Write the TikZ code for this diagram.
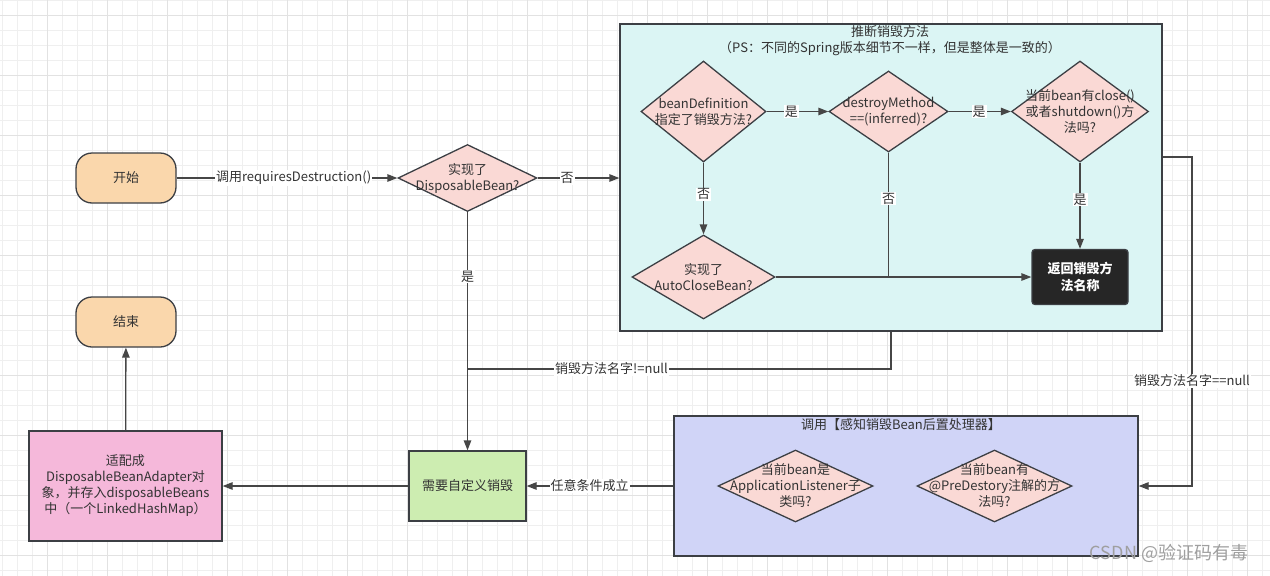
\documentclass[tikz,border=0pt]{standalone}
\usepackage{fontspec}
\setmainfont{Noto Sans CJK SC}
\usepackage{tikz}
\usetikzlibrary{shapes.geometric}
\usetikzlibrary{arrows.meta}

\definecolor{peach}{HTML}{FAD7AC}
\definecolor{rosy}{HTML}{FAD9D5}
\definecolor{mint}{HTML}{DBF5F4}
\definecolor{lilac}{HTML}{D0D4F7}
\definecolor{leaf}{HTML}{CDEDB1}
\definecolor{blush}{HTML}{F5B8DA}
\definecolor{coal}{HTML}{262626}
\definecolor{edge}{HTML}{3C3F44}
\definecolor{wire}{HTML}{464646}
\definecolor{ink}{HTML}{333333}
\definecolor{gridlo}{HTML}{EFEFEF}
\definecolor{gridhi}{HTML}{E2E2E2}

\begin{document}
\begin{tikzpicture} [
    x=1pt, y=-1pt,
    every node/.style = {font=\fontsize{13}{16}\selectfont, text=ink},
    term/.style = {draw=edge, fill=peach, line width=1.3pt, rounded corners=16pt, minimum width=100pt, minimum height=50pt},
    dia/.style = {diamond, draw=edge, fill=rosy, line width=1.3pt, inner sep=0pt},
    dtext/.style = {align=center, inner sep=0pt},
    box/.style = {draw=edge, line width=1.3pt, align=center},
    lbl/.style = {fill=white, inner sep=1pt},
    link/.style = {draw=wire, line width=1.3pt},
    arr/.style = {link, -{Triangle[length=10pt,width=7.5pt]}},
    gridminor/.style = {draw=gridlo, line width=0.8pt},
    gridmajor/.style = {draw=gridhi, line width=0.8pt}
]
    \useasboundingbox (0,0) rectangle (1270,576);
    \fill[white] (0,0) rectangle (1270,576);

    % background grid
    \foreach \i in {0,...,84} \draw[gridminor] ({2.3+15*\i},0) -- ({2.3+15*\i},576);
    \foreach \i in {0,...,38} \draw[gridminor] (0,{15*\i}) -- (1270,{15*\i});
    \foreach \i in {0,...,20} \draw[gridmajor] ({47.3+60*\i},0) -- ({47.3+60*\i},576);
    \foreach \i in {0,...,9} \draw[gridmajor] (0,{15+60*\i}) -- (1270,{15+60*\i});

    % main flow
    \node[term] (start) at (126,178) {开始};
    \node[term] (finish) at (126,322) {结束};
    \node[dia, minimum width=139pt, minimum height=67pt,
          label={[dtext]center:{实现了\\DisposableBean?}}] (dispo) at (467.5,178) {};

    % infer box
    \node[box, fill=mint, minimum width=542pt, minimum height=307pt] (infer) at (891,177.5) {};
    \node[align=center] (inferT) at (890,41)
        {推断销毁方法\\（PS：不同的Spring版本细节不一样，但是整体是一致的）};
    \node[dia, minimum width=125pt, minimum height=101pt,
          label={[dtext]center:{beanDefinition\\指定了销毁方法?}}] (d1) at (703.5,111.5) {};
    \node[dia, minimum width=119pt, minimum height=81pt,
          label={[dtext]center:{destroyMethod\\==(inferred)?}}] (d2) at (888.5,111.5) {};
    \node[dia, minimum width=137pt, minimum height=101pt,
          label={[dtext]center:{当前bean有close()\\或者shutdown()方\\法吗?}}] (d3) at (1080,111.5) {};
    \node[dia, minimum width=143pt, minimum height=84pt,
          label={[dtext]center:{实现了\\AutoCloseBean?}}] (d4) at (703.5,277) {};
    \node[box, fill=coal, text=white, rounded corners=3pt, minimum width=96pt, minimum height=55pt,
          font=\fontsize{13}{17}\selectfont\bfseries] (ret) at (1080,277) {返回销毁方\\法名称};

    % aware box
    \node[box, fill=lilac, minimum width=464pt, minimum height=140pt] (aware) at (906,486) {};
    \node (awareT) at (901,425) {调用【感知销毁Bean后置处理器】};
    \node[dia, minimum width=155pt, minimum height=72pt,
          label={[dtext]center:{当前bean是\\ApplicationListener子\\类吗?}}] (dA) at (795.5,486) {};
    \node[dia, minimum width=155pt, minimum height=72pt,
          label={[dtext]center:{当前bean有\\@PreDestory注解的方\\法吗?}}] (dB) at (994.5,486) {};

    \node[box, fill=leaf, minimum width=117pt, minimum height=70pt] (custom) at (467.5,486) {需要自定义销毁};
    \node[box, fill=blush, minimum width=193pt, minimum height=110pt] (adapt) at (125.5,486)
        {适配成\\DisposableBeanAdapter对\\象，并存入disposableBeans\\中（一个LinkedHashMap）};

    \node[font=\fontsize{18}{20}\selectfont, text=gray!75] (mark) at (1169,553) {CSDN @验证码有毒};

    % connectors
    \draw[arr] (start) -- (dispo) node[lbl, pos=0.53] {调用requiresDestruction()};
    \draw[arr] (dispo) -- (dispo -| infer.west) node[lbl, pos=0.36] {否};
    \draw[arr] (dispo) -- (custom) node[lbl, pos=0.27] {是};

    \draw[arr] (d1) -- (d2) node[lbl, pos=0.4] {是};
    \draw[arr] (d2) -- (d3) node[lbl, pos=0.49] {是};
    \draw[arr] (d1) -- (d4) node[lbl, pos=0.44] {否};
    \draw[arr] (d3) -- (ret) node[lbl, pos=0.43] {是};
    \draw[arr] (d4) -- (ret);
    \draw[link] (d2) -- (d2 |- ret) node[lbl, pos=0.37] {否};

    \coordinate (nullA) at (467.5,369);
    \draw[link] (infer.south) |- (nullA) node[lbl, pos=0.83] {销毁方法名字!=null};
    \coordinate (nullB) at (1192,157);
    \draw[arr] (infer.east |- nullB) -- (nullB) |- (aware.east) node[lbl, pos=0.34] {销毁方法名字==null};

    \draw[arr] (aware) -- (custom) node[lbl, pos=0.57] {任意条件成立};
    \draw[arr] (custom) -- (adapt);
    \draw[arr] (adapt) -- (finish);
\end{tikzpicture}
\end{document}
